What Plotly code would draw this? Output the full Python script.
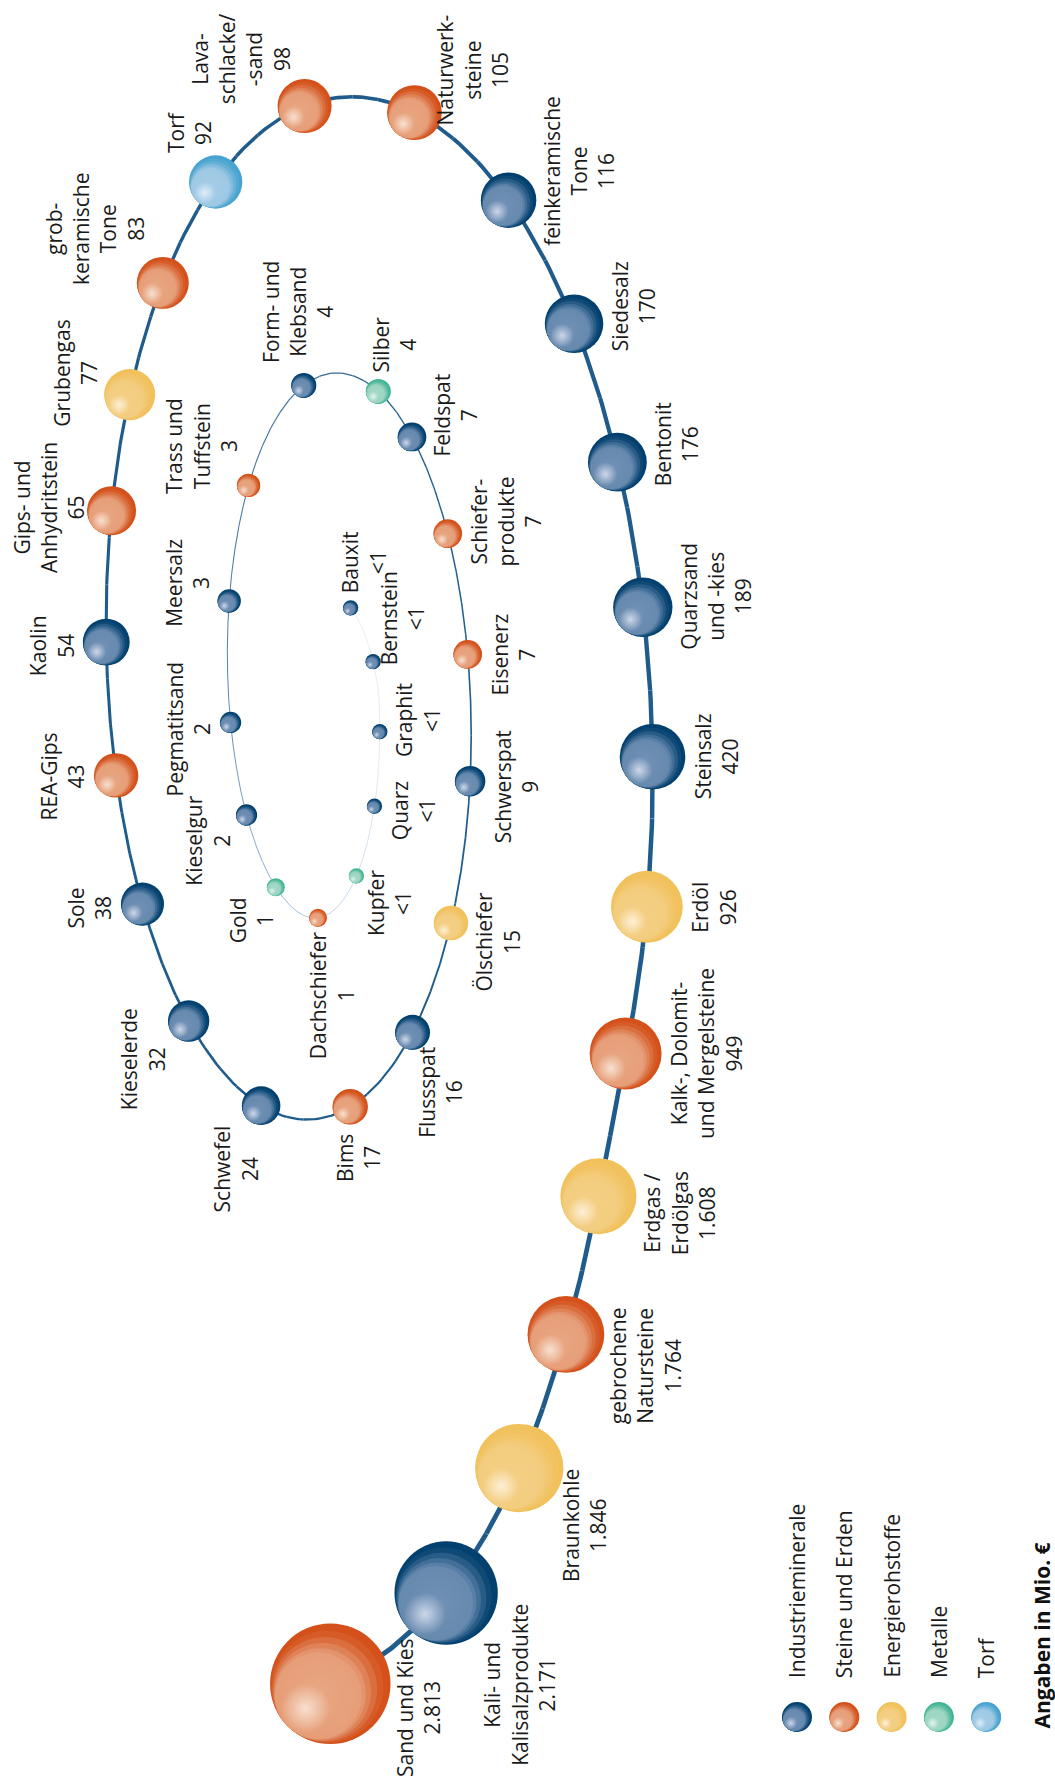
import numpy as np
import plotly.graph_objects as go

# ---------------- data ----------------
names = ["Sand und Kies", "Kali- und<br>Kalisalzprodukte", "Braunkohle", "gebrochene<br>Natursteine",
         "Erdgas /<br>Erdölgas", "Kalk-, Dolomit-<br>und Mergelsteine", "Erdöl", "Steinsalz",
         "Quarzsand<br>und -kies", "Bentonit", "Siedesalz", "feinkeramische<br>Tone",
         "Naturwerk-<br>steine", "Lava-<br>schlacke/<br>-sand", "Torf", "grob-<br>keramische<br>Tone",
         "Grubengas", "Gips- und<br>Anhydritstein", "Kaolin", "REA-Gips", "Sole", "Kieselerde",
         "Schwefel", "Bims", "Flussspat", "Ölschiefer", "Schwerspat", "Eisenerz",
         "Schiefer-<br>produkte", "Feldspat", "Silber", "Form- und<br>Klebsand", "Trass und<br>Tuffstein",
         "Meersalz", "Pegmatitsand", "Kieselgur", "Gold", "Dachschiefer", "Kupfer", "Quarz",
         "Graphit", "Bernstein", "Bauxit"]
value_labels = ["2.813", "2.171", "1.846", "1.764", "1.608", "949", "926", "420", "189", "176", "170",
                "116", "105", "98", "92", "83", "77", "65", "54", "43", "38", "32", "24", "17", "16",
                "15", "9", "7", "7", "7", "4", "4", "3", "3", "2", "2", "1", "1",
                "<1", "<1", "<1", "<1", "<1"]
values = [2813, 2171, 1846, 1764, 1608, 949, 926, 420, 189, 176, 170, 116, 105, 98, 92, 83, 77, 65,
          54, 43, 38, 32, 24, 17, 16, 15, 9, 7, 7, 7, 4, 4, 3, 3, 2, 2, 1, 1,
          0.5, 0.5, 0.5, 0.5, 0.5]
groups = ["S", "I", "E", "S", "E", "S", "E", "I", "I", "I", "I", "I", "S", "S", "T", "S", "E", "S",
          "I", "S", "I", "I", "I", "S", "I", "E", "I", "S", "S", "I", "M", "I", "S", "I", "I", "I",
          "M", "S", "M", "I", "I", "I", "I"]
categories = ["I", "S", "E", "M", "T"]
category_names = ["Industrieminerale", "Steine und Erden", "Energierohstoffe", "Metalle", "Torf"]
unit_note = "Angaben in Mio. €"

# ---------------- style ----------------
W, H = 1055, 1791
FONT = "Open Sans"
FS = 21
PALETTE = {  # dark, mid, light
    "I": ((2, 65, 111), (114, 145, 182), (205, 215, 232)),
    "S": ((212, 81, 27), (232, 167, 131), (248, 224, 208)),
    "E": ((241, 193, 91), (244, 207, 132), (253, 240, 215)),
    "M": ((67, 181, 150), (165, 217, 198), (226, 244, 237)),
    "T": ((71, 164, 208), (167, 205, 231), (222, 237, 247)),
}
label_dir = [14, 40, 31, 17, 11, 0, 0, 0, -7, -13, -12, -15, -36, -138, -117, -144, -166, -178,
             177, 179, 176, 152, 120, 81, 55, 14, 4, 0, -10, -19, -69, -96, -146, -164, 176, 157,
             127, 70, 32, 6, -12, -42, -71]
# spacing profile along the spiral (angle knots -> step multiplier)
space_t = [-1.6, -1.25, -1.15, -0.75, -0.6, -0.15, 0.0, 1.1, 1.4, 1.95, 2.05, 2.75, 2.85, 3.0,
           4.0, 4.25, 4.35, 5.45, 5.55, 5.95, 6.05, 6.7, 6.85, 7.05, 7.15, 7.45, 7.55, 8.6, 8.7,
           9.5, 9.7, 11.1, 11.2, 14.5]
space_m = [1.0, 1.0, 1.05, 1.05, 1.04, 1.04, 1.08, 1.08, 1.0, 1.0, 0.9, 0.9, 1.0, 1.05,
           1.05, 1.0, 0.92, 0.92, 1.25, 1.25, 1.1, 1.1, 1.0, 1.0, 0.6, 0.6, 1.25, 1.25, 1.12,
           1.12, 0.92, 0.92, 1.0, 1.0]


def rgb(c, a=1.0):
    return "rgba(%d,%d,%d,%.3f)" % (c[0], c[1], c[2], a)


def mix(c1, c2, t):
    return tuple(c1[i] + (c2[i] - c1[i]) * t for i in range(3))


def radius(v):
    base = 9 * v ** 0.24 if v <= 100 else 9 * 100 ** 0.24 + 9 * np.log10(v / 100)
    boost = 20 * np.sqrt(np.clip((v - 1764) / (2813 - 1764), 0, 1))
    return base + boost


r = np.array([radius(v) for v in values])
n = len(values)

# ---------------- spiral layout ----------------
PX, PY = 325.0, 688.0
RX0, RY0 = 325.0, 688.5
QX, QY = 0.668, 0.73
TH0 = -1.56


def spiral(th):
    th = np.asarray(th, dtype=float)
    d = np.clip(-th - 0.5, 0, None)
    T = 1 + 0.26 * (1 - np.exp(-(d / 0.68) ** 2))
    E = np.exp(-0.44 * np.clip(th - 12.5, 0, None) ** 1.5)
    px = PX - 5.5 * np.clip(th - 10.5, 0, None)
    rx = RX0 * QX ** (th / np.pi) * E
    ry = RY0 * QY ** (th / np.pi) * E
    return px + T * rx * np.cos(th), PY - T * ry * np.sin(th)


th = np.arange(TH0, TH0 + 17.0, 0.0005)
sx, sy = spiral(th)
dx, dy = np.diff(sx), np.diff(sy)
thm = th[:-1]
ymid = (sy[:-1] + sy[1:]) / 2
rxm = RX0 * QX ** (thm / np.pi)
rym = RY0 * QY ** (thm / np.pi)
fh = np.minimum(1, rxm / 175)
fv = np.minimum(1, (rym / 265) ** 1.2)
adx, ady = np.abs(dx), np.abs(dy)
wgt = (adx * fh + ady * fv) / (adx + ady + 1e-12)
wgt = wgt * np.interp(thm, space_t, space_m)
gam = 1.2 - 0.15 * np.clip((ymid - 900) / 500, 0, 1)
eff = np.hypot(dx, dy / gam) / wgt
cum = np.concatenate([[0.0], np.cumsum(eff)])
steps = [79 + 0.6 * (r[i] + r[i + 1]) for i in range(n - 1)]
targets = np.concatenate([[0.0], np.cumsum(steps)])
idx = np.minimum(np.searchsorted(cum, targets), len(th) - 1)
bx, by, bth = sx[idx], sy[idx], th[idx]

fig = go.Figure()

# spiral line, tapering towards the centre
knots_t = [-1.6, 0.0, 1.6, 3.2, 4.8, 6.3, 7.8, 9.3, 10.4, 11.4, 12.2, 14.5]
knots_w = [5.0, 4.4, 3.6, 3.0, 2.2, 1.6, 1.2, 1.0, 0.9, 0.8, 0.8, 0.8]
knots_c = [(31, 91, 139), (31, 91, 139), (31, 91, 139), (31, 91, 139), (31, 91, 139),
           (36, 96, 143), (52, 105, 152), (85, 130, 175), (140, 176, 211), (190, 210, 231),
           (222, 231, 241), (232, 238, 245)]
lt = np.linspace(bth[0], bth[-1], 2400)
lx, ly = spiral(lt)
nseg = 160
edges = np.linspace(0, len(lt) - 1, nseg + 1).astype(int)
for k in range(nseg):
    a, b = edges[k], edges[k + 1]
    tm = lt[(a + b) // 2]
    wv = float(np.interp(tm, knots_t, knots_w))
    col = tuple(float(np.interp(tm, knots_t, [c[j] for c in knots_c])) for j in range(3))
    fig.add_trace(go.Scatter(x=lx[a:b + 1], y=ly[a:b + 1], mode="lines",
                             line=dict(color=rgb(col), width=wv),
                             hoverinfo="skip", showlegend=False))

LEG_X0, LEG_DX, LEG_Y, LEG_R = 797.0, 47.3, 1717.0, 15.0
leg_x = {c: LEG_X0 + i * LEG_DX for i, c in enumerate(categories)}

# shaded spheres: dark rim layers, body with radial gradient, soft highlight
DIAG = np.sqrt(0.5)
SHADE_K = [0.0, 0.07, 0.13, 0.19, 0.24]
SHADE_T = [1.0, 0.88, 0.66, 0.42, 0.22]
BODY_K = 0.28
for c in categories:
    sel = [i for i in range(n) if groups[i] == c]
    cx = np.array([bx[i] for i in sel] + [leg_x[c]])
    cy = np.array([by[i] for i in sel] + [LEG_Y])
    cr = np.array([r[i] for i in sel] + [LEG_R])
    dark, mid, light = PALETTE[c]
    for k, t in zip(SHADE_K, SHADE_T):
        fig.add_trace(go.Scatter(x=cx - k * DIAG * cr, y=cy + k * DIAG * cr, mode="markers",
                                 hoverinfo="skip", showlegend=False,
                                 marker=dict(size=2 * (1 - k) * cr, color=rgb(mix(mid, dark, t)),
                                             opacity=1, line=dict(width=0))))
    fig.add_trace(go.Scatter(x=cx - BODY_K * DIAG * cr, y=cy + BODY_K * DIAG * cr, mode="markers",
                             hoverinfo="skip", showlegend=False,
                             marker=dict(size=2 * (1 - BODY_K) * cr, color=rgb(mix(mid, dark, 0.1)),
                                         opacity=1, line=dict(width=0),
                                         gradient=dict(type="radial", color=rgb(mid)))))
    fig.add_trace(go.Scatter(x=cx - 0.41 * cr, y=cy + 0.41 * cr, mode="markers",
                             hoverinfo="skip", showlegend=False,
                             marker=dict(size=2 * 0.41 * cr, color=rgb(light, 0.0),
                                         opacity=1, line=dict(width=0),
                                         gradient=dict(type="radial", color=rgb(light)))))

# ---------------- labels ----------------
CW = {' ': 260, '-': 322, '.': 266, ',': 246, '/': 371, '<': 571, '€': 571,
      'a': 556, 'b': 613, 'c': 476, 'd': 613, 'e': 561, 'f': 336, 'g': 547, 'h': 613, 'i': 258,
      'j': 258, 'k': 525, 'l': 258, 'm': 930, 'n': 613, 'o': 601, 'p': 613, 'q': 613, 'r': 408,
      's': 479, 't': 361, 'u': 613, 'v': 500, 'w': 778, 'x': 514, 'y': 500, 'z': 477, 'ö': 601,
      'ä': 556, 'A': 633, 'B': 637, 'C': 631, 'D': 729, 'E': 556, 'F': 516, 'G': 728, 'H': 738,
      'I': 279, 'K': 590, 'L': 519, 'M': 907, 'N': 764, 'O': 779, 'P': 602, 'Q': 779, 'R': 618,
      'S': 549, 'T': 553, 'Z': 560, 'Ö': 779}


def text_w(s):
    return sum(CW.get(ch, 571) for ch in s) / 1000.0 * FS


PAD = 10
PITCH = 1.3 * FS
EDGE = 14
for i in range(n):
    lines = names[i].split("<br>") + [value_labels[i]]
    hv = max(text_w(s) for s in lines) / 2
    wv = ((len(lines) - 1) * PITCH + 0.72 * FS) / 2
    ang = np.radians(label_dir[i])
    ux, uy = np.cos(ang), np.sin(ang)
    lxp = bx[i] + ux * (r[i] + PAD) + ux * wv
    lyp = by[i] + uy * (r[i] + PAD) + uy * hv
    lxp = min(max(lxp, wv + EDGE), W - wv - EDGE)
    lyp = min(max(lyp, hv + EDGE), H - hv - EDGE)
    txt = names[i] + "<br>" + value_labels[i].replace("<", "&lt;")
    fig.add_annotation(x=lxp, y=lyp, text=txt, textangle=-90, showarrow=False,
                       xanchor="center", yanchor="middle", align="center",
                       font=dict(family=FONT, size=FS, color="#1a1a1a"))

for c, nm in zip(categories, category_names):
    fig.add_annotation(x=leg_x[c], y=LEG_Y - LEG_R - 22, text=nm, textangle=-90, showarrow=False,
                       xanchor="center", yanchor="bottom",
                       font=dict(family=FONT, size=FS, color="#1a1a1a"))

fig.add_annotation(x=1041.5, y=1731, text="<b>" + unit_note + "</b>", textangle=-90,
                   showarrow=False, xanchor="center", yanchor="bottom",
                   font=dict(family=FONT, size=FS, color="#111111"))

fig.update_layout(width=W, height=H, margin=dict(l=0, r=0, t=0, b=0),
                  paper_bgcolor="white", plot_bgcolor="white", showlegend=False,
                  xaxis=dict(range=[0, W], visible=False, fixedrange=True),
                  yaxis=dict(range=[H, 0], visible=False, fixedrange=True))

fig.write_html("out.html", config={"displayModeBar": False})
